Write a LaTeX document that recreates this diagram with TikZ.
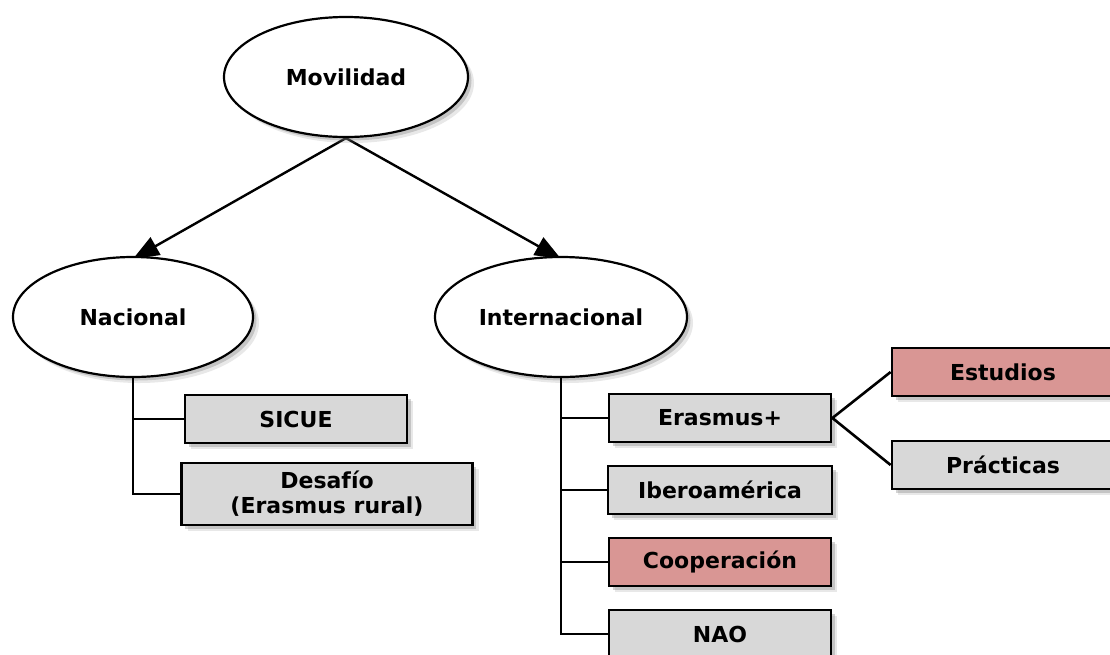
\documentclass[tikz,border=0pt]{standalone}
\usepackage{fontspec}
\setmainfont{DejaVu Sans}
\usetikzlibrary{arrows.meta,positioning,shapes.geometric,shadows,backgrounds}
\definecolor{gris}{RGB}{216,216,216}
\definecolor{rosa}{RGB}{217,150,148}

\begin{document}
\begin{tikzpicture}[x=1pt, y=-1pt, >={Triangle[length=26pt,width=20pt]}, line width=2.6pt, node distance=72pt, font=\fontsize{22}{25}\selectfont\bfseries]
\tikzstyle{sombra}=[drop shadow={shadow xshift=6pt, shadow yshift=-6pt, opacity=0.18}, drop shadow={shadow xshift=3.5pt, shadow yshift=-3.5pt, opacity=0.35}]
\tikzstyle{elipse}=[ellipse, draw=black, fill=white, line width=2.2pt, minimum width=244pt, minimum height=120pt, inner sep=0pt, sombra]
\tikzstyle{caja}=[rectangle, draw=black, fill=gris, line width=2.8pt, minimum width=222pt, minimum height=48pt, inner sep=0pt, align=center, sombra]
\tikzstyle{roja}=[caja, fill=rosa]
\useasboundingbox (0,0) rectangle (1110,654);
\clip (0,0) rectangle (1110,654);
\node[elipse]                       (Mov) at (346,77)  {Movilidad};
\node[elipse, minimum width=240pt]  (Nac) at (133,317) {Nacional};
\node[elipse, minimum width=252pt]  (Int) at (561,317) {Internacional};
\node[caja]                         (Sic) at (296,419) {SICUE};
\node[caja, minimum width=291pt, minimum height=62pt] (Des) at (327,494) {Desafío\\(Erasmus rural)};
\node[caja]                         (Era) at (720,418) {Erasmus+};
\node[caja, minimum width=224pt]    (Ibe) [below of=Era] {Iberoamérica};
\node[roja]                         (Coo) [below of=Ibe] {Cooperación};
\node[caja]                         (Nao) [below of=Coo] {NAO};
\node[roja]                         (Est) at (1003,372) {Estudios};
\node[caja]                         (Pra) at (1003,465) {Prácticas};
\begin{scope}[on background layer]
\path[->, line width=2.4pt]
(Mov.south) edge ([yshift=-3pt]Nac.north)
(Mov.south) edge ([yshift=-3pt]Int.north);
\end{scope}
\draw (Nac.south) |- (Sic.west);
\draw (Nac.south) |- (Des.west);
\foreach \n in {Era,Ibe,Coo,Nao}
  \draw (Int.south) |- (\n.west);
\draw (Era.east) -- (Est.west);
\draw (Era.east) -- (Pra.west);
\end{tikzpicture}
\end{document}
